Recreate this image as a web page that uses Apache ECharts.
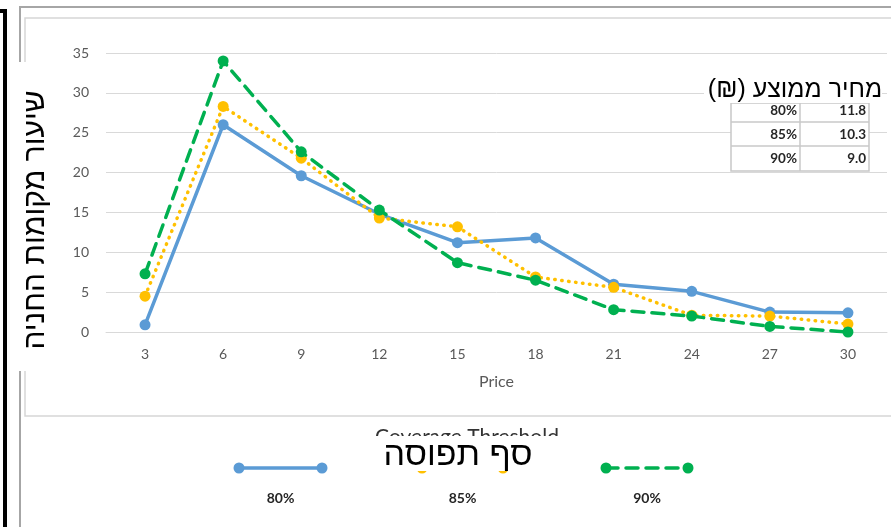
<!DOCTYPE html>
<html>
<head>
<meta charset="utf-8">
<script src="https://cdn.jsdelivr.net/npm/echarts@6/dist/echarts.min.js"></script>
<style>
  html, body { margin: 0; padding: 0; background: #fff; }
  #chart { width: 891px; height: 527px; }
</style>
</head>
<body>
<div id="chart"></div>
<script>
// Price points (x categories)
const prices = ['3', '6', '9', '12', '15', '18', '21', '24', '27', '30'];
// Parking occupancy rate per coverage threshold
const seriesNames = ['80%', '85%', '90%'];
const occ80 = [0.9, 26.0, 19.6, 14.8, 11.2, 11.8, 6.0, 5.1, 2.5, 2.4];
const occ85 = [4.5, 28.3, 21.8, 14.3, 13.2, 6.9, 5.6, 2.1, 2.0, 1.0];
const occ90 = [7.3, 34.0, 22.6, 15.3, 8.7, 6.5, 2.8, 2.0, 0.7, 0.0];
// Average price (₪) per threshold
const avgPrice = [11.8, 10.3, 9.0];

const yTitle = 'שיעור מקומות החניה';
const xTitleHe = 'סף תפוסה';
const xTitleEn = 'Coverage Threshold';
const tableTitle = 'מחיר ממוצע (₪)\u200F';

const colors = ['#5B9BD5', '#FFC000', '#00B050'];
const lineTypes = ['solid', [0.5, 6.5], [12, 8]];
const latin = 'Lato, "Liberation Sans", sans-serif';
const heb = '"Liberation Sans", "DejaVu Sans", sans-serif';

const chart = echarts.init(document.getElementById('chart'), null, { renderer: 'canvas' });

const dataSets = [occ80, occ85, occ90];
const series = dataSets.map((d, i) => ({
  name: seriesNames[i],
  type: 'line',
  data: d,
  symbol: 'circle',
  symbolSize: 11,
  z: 3 + i,
  itemStyle: { color: colors[i] },
  lineStyle: { color: colors[i], width: 3.5, type: lineTypes[i], cap: 'round' }
}));

// Legend drawn as line samples with markers at both ends, label below
const legendX = [[239, 322], [422, 503], [606, 688]];
const legendY = 468;
const legendEls = [];
seriesNames.forEach((n, i) => {
  const [x1, x2] = legendX[i];
  legendEls.push({
    type: 'line', z: 50,
    shape: { x1: x1, y1: legendY, x2: x2, y2: legendY },
    style: { stroke: colors[i], lineWidth: 3.5, lineDash: lineTypes[i] === 'solid' ? null : lineTypes[i], lineCap: 'round' }
  });
  [x1, x2].forEach(cx => legendEls.push({
    type: 'circle', z: 51, shape: { cx: cx, cy: legendY, r: 5.5 }, style: { fill: colors[i] }
  }));
  legendEls.push({
    type: 'text', z: 51, x: (x1 + x2) / 2, y: 498,
    style: { text: n, align: 'center', verticalAlign: 'middle', font: 'bold 14px ' + latin, fill: '#262626' }
  });
});

// Average price table
const tableEls = [];
const tLeft = 731, tMid = 800, tRight = 869;
const rowTops = [103, 122, 146, 171];
tableEls.push({ type: 'rect', z: 70, shape: { x: tLeft, y: rowTops[0], width: tRight - tLeft, height: rowTops[3] - rowTops[0] },
  style: { fill: '#fff', stroke: '#c8c8c8', lineWidth: 1.5 } });
tableEls.push({ type: 'line', z: 71, shape: { x1: tMid, y1: rowTops[0], x2: tMid, y2: rowTops[3] }, style: { stroke: '#c8c8c8', lineWidth: 1.5 } });
[1, 2].forEach(r => tableEls.push({ type: 'line', z: 71, shape: { x1: tLeft, y1: rowTops[r], x2: tRight, y2: rowTops[r] }, style: { stroke: '#c8c8c8', lineWidth: 1.5 } }));
const rowCenters = [111, 135, 159];
seriesNames.forEach((n, r) => {
  tableEls.push({ type: 'text', z: 72, x: tMid - 3, y: rowCenters[r],
    style: { text: n, align: 'right', verticalAlign: 'middle', font: 'bold 13.5px ' + latin, fill: '#262626' } });
  tableEls.push({ type: 'text', z: 72, x: tRight - 3, y: rowCenters[r],
    style: { text: avgPrice[r].toFixed(1), align: 'right', verticalAlign: 'middle', font: 'bold 13.5px ' + latin, fill: '#262626' } });
});

const option = {
  animation: false,
  backgroundColor: '#fff',
  grid: { left: 106, right: 4, top: 53, bottom: 195, containLabel: false },
  xAxis: {
    type: 'category',
    data: prices,
    boundaryGap: true,
    name: 'Price',
    nameLocation: 'middle',
    nameGap: 42,
    nameTextStyle: { color: '#595959', fontSize: 16, fontFamily: latin },
    axisLine: { show: true, lineStyle: { color: '#d9d9d9', width: 1 } },
    axisTick: { show: false },
    axisLabel: { color: '#595959', fontSize: 14, fontFamily: latin, margin: 15 }
  },
  yAxis: {
    type: 'value',
    min: 0, max: 35, interval: 5,
    axisLine: { show: false },
    axisTick: { show: false },
    splitLine: { lineStyle: { color: '#d9d9d9', width: 1 } },
    axisLabel: { color: '#595959', fontSize: 14, fontFamily: latin, margin: 17 }
  },
  series: series,
  graphic: [
    // chart frame
    { type: 'polyline', z: 1, shape: { points: [[20, 527], [20, 7], [891, 7]] }, style: { stroke: '#a6a6a6', lineWidth: 2, fill: null } },
    { type: 'rect', z: 1, shape: { x: 25, y: 18, width: 880, height: 398 }, style: { stroke: '#d6d6d6', lineWidth: 1.5, fill: null } },
    { type: 'polyline', z: 1, shape: { points: [[0, 11], [5, 11], [5, 527]] }, style: { stroke: '#000', lineWidth: 4, fill: null } },
    // English axis title (mostly under the Hebrew label)
    { type: 'text', z: 40, x: 467, y: 427, style: { text: xTitleEn, align: 'center', verticalAlign: 'top', font: '21px ' + latin, fill: '#333' } },
    ...legendEls,
    // Hebrew x title
    { type: 'rect', z: 60, shape: { x: 366, y: 436, width: 200, height: 35 }, style: { fill: '#fff' } },
    { type: 'text', z: 61, x: 458, y: 456, style: { text: xTitleHe, align: 'center', verticalAlign: 'middle', font: '34px ' + heb, fill: '#000' } },
    // Hebrew y title
    { type: 'rect', z: 60, shape: { x: 10, y: 62, width: 52, height: 309 }, style: { fill: '#fff' } },
    { type: 'text', z: 61, x: 36, y: 220, rotation: Math.PI / 2, style: { text: yTitle, align: 'center', verticalAlign: 'middle', font: '30px ' + heb, fill: '#000' } },
    // Average price title + table
    { type: 'rect', z: 75, shape: { x: 704, y: 75, width: 178, height: 28 }, style: { fill: '#fff' } },
    { type: 'text', z: 76, x: 795, y: 90, style: { text: tableTitle, align: 'center', verticalAlign: 'middle', font: '25px ' + heb, fill: '#000' } },
    ...tableEls
  ]
};
chart.setOption(option);
</script>
</body>
</html>
